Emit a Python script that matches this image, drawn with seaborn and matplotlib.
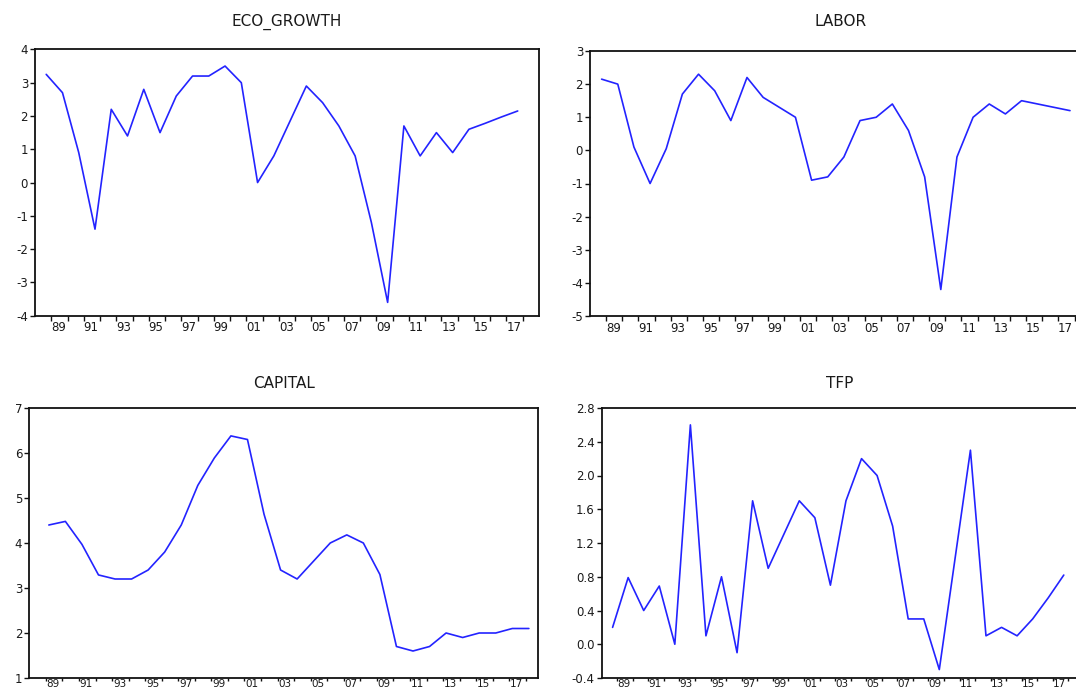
import matplotlib
matplotlib.use("Agg")
import matplotlib.pyplot as plt
import numpy as np
import pandas as pd
import seaborn as sns
from matplotlib.ticker import FixedLocator, FixedFormatter

# ---------------- data ----------------
years = list(range(1988, 2018))
eco_growth = [3.25, 2.7, 0.9, -1.4, 2.2, 1.4, 2.8, 1.5, 2.6, 3.2, 3.2, 3.5, 3.0, 0.0, 0.8,
              1.85, 2.9, 2.4, 1.7, 0.8, -1.2, -3.6, 1.7, 0.8, 1.5, 0.9, 1.6, 1.78, 1.97, 2.15]
labor = [2.15, 2.0, 0.1, -1.0, 0.05, 1.7, 2.3, 1.8, 0.9, 2.2, 1.6, 1.3, 1.0, -0.9, -0.8,
         -0.2, 0.9, 1.0, 1.4, 0.6, -0.8, -4.2, -0.2, 1.0, 1.4, 1.1, 1.5, 1.4, 1.3, 1.2]
capital = [4.4, 4.48, 3.97, 3.29, 3.2, 3.2, 3.4, 3.8, 4.4, 5.28, 5.89, 6.38, 6.3, 4.64, 3.4,
           3.2, 3.6, 4.0, 4.18, 4.0, 3.3, 1.7, 1.6, 1.7, 2.0, 1.9, 2.0, 2.0, 2.1, 2.1]
tfp = [0.2, 0.79, 0.4, 0.69, 0.0, 2.6, 0.1, 0.8, -0.1, 1.7, 0.9, 1.3, 1.7, 1.5, 0.7,
       1.7, 2.2, 2.0, 1.4, 0.3, 0.3, -0.3, 1.0, 2.3, 0.1, 0.2, 0.1, 0.3, 0.55, 0.82]

titles = ["ECO_GROWTH", "LABOR", "CAPITAL", "TFP"]
label_years = list(range(1989, 2018, 2))
x_labels = ["89", "91", "93", "95", "97", "99", "01", "03", "05", "07", "09", "11", "13", "15", "17"]
y_ticks = [
    [-4, -3, -2, -1, 0, 1, 2, 3, 4],
    [-5, -4, -3, -2, -1, 0, 1, 2, 3],
    [1, 2, 3, 4, 5, 6, 7],
    [-0.4, 0.0, 0.4, 0.8, 1.2, 1.6, 2.0, 2.4, 2.8],
]
y_fmt = ["{:.0f}", "{:.0f}", "{:.0f}", "{:.1f}"]

df = pd.DataFrame({"year": years, "ECO_GROWTH": eco_growth, "LABOR": labor,
                   "CAPITAL": capital, "TFP": tfp})

# ---------------- layout (pixels) ----------------
W, H = 1076, 693
boxes = [  # left, top, right, bottom in pixels
    (35, 49.4, 539, 315.7),
    (590, 51, 1091, 316),
    (29.3, 408, 538.3, 678),
    (601.7, 408, 1084, 678),
]
xlims = [(1987.31, 2018.31), (1987.28, 2018.30), (1986.82, 2017.57), (1987.30, 2018.30)]
title_y = [22, 22, 384, 384]
xlabel_pad = [4, 4, 0.6, 0.6]
xlabel_size = [8.5, 8.5, 7.5, 7.5]
xtick_len = [3.5, 3.5, 2.5, 2.5]

sns.set_theme(style="white")
plt.rcParams["font.family"] = ["DejaVu Sans"]
plt.rcParams["axes.unicode_minus"] = False

fig = plt.figure(figsize=(W / 100, H / 100), dpi=100)
fig.patch.set_facecolor("white")

line_color = "#2323FF"
text_color = "#1a1a1a"

for i, name in enumerate(titles):
    l, t, r, b = boxes[i]
    ax = fig.add_axes([l / W, 1 - b / H, (r - l) / W, (b - t) / H])
    sns.lineplot(data=df, x="year", y=name, ax=ax, color=line_color, linewidth=1.2)
    lo, hi = xlims[i]
    ax.set_xlim(lo, hi)
    ax.set_ylim(y_ticks[i][0], y_ticks[i][-1])
    ax.set_xlabel("")
    ax.set_ylabel("")

    # x: labels between year-boundary tick marks
    label_pos = [lo + 1.45 + (yr - 1989) for yr in label_years]
    ax.xaxis.set_major_locator(FixedLocator(label_pos))
    ax.xaxis.set_major_formatter(FixedFormatter(x_labels))
    tick_pos = [lo + 1.0 + k for k in range(0, 31) if lo + 1.0 + k < hi]
    ax.xaxis.set_minor_locator(FixedLocator(tick_pos))
    ax.tick_params(axis="x", which="major", length=0, pad=xlabel_pad[i],
                   labelsize=xlabel_size[i], labelcolor=text_color)
    ax.tick_params(axis="x", which="minor", length=xtick_len[i], width=1.0, direction="out",
                   color="#111111", bottom=True)

    ax.yaxis.set_major_locator(FixedLocator(y_ticks[i]))
    ax.yaxis.set_major_formatter(FixedFormatter([y_fmt[i].format(v) for v in y_ticks[i]]))
    ax.tick_params(axis="y", which="major", length=3.5, width=1.0, direction="out", pad=1.5,
                   labelsize=8.5, labelcolor=text_color, color="#111111", left=True)

    for sp in ax.spines.values():
        sp.set_visible(True)
        sp.set_color("#111111")
        sp.set_linewidth(1.3)
    ax.grid(False)

    fig.text(((l + r) / 2) / W if i != 3 else 840 / W, 1 - title_y[i] / H, name,
             ha="center", va="center", fontsize=11, color=text_color)

fig.savefig("out.png", dpi=100, facecolor="white")
